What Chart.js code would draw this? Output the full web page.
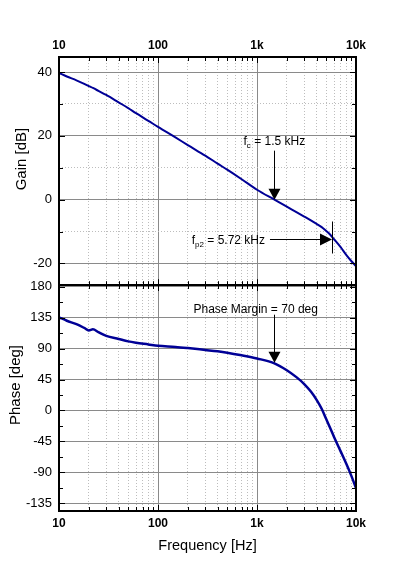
<!DOCTYPE html>
<html>
<head>
<meta charset="utf-8">
<script src="https://cdn.jsdelivr.net/npm/chart.js@4.4.1/dist/chart.umd.min.js"></script>
<style>
html, body { margin: 0; padding: 0; background: #fff; }
#wrap { position: relative; width: 398px; height: 570px; }
#gainCanvas { position: absolute; left: 0; top: 0; }
#phaseCanvas { position: absolute; left: 0; top: 270px; }
</style>
</head>
<body>
<div id="wrap">
  <canvas id="gainCanvas" width="398" height="300"></canvas>
  <canvas id="phaseCanvas" width="398" height="300"></canvas>
</div>
<script>
const freqHz   = [10, 12, 15, 18, 20, 22, 25, 30, 40, 50, 60, 80, 100, 150, 200, 300, 400, 500, 700, 1000,
                  1500, 2000, 2500, 3000, 3500, 4000, 4500, 5000, 5500, 6000, 7000, 8000, 9000, 10000];
const gainDb   = [39.7, 38.6, 37.4, 36.3, 35.6, 35.0, 34.1, 32.8, 30.5, 28.7, 27.1, 24.7, 22.8, 19.5, 17.1, 13.8, 11.3, 9.4, 6.4, 3.1,
                  0.0, -2.2, -3.9, -5.3, -6.5, -7.6, -8.6, -9.8, -11.0, -12.4, -14.9, -17.4, -19.3, -20.8];
const phaseDeg = [135.5, 130.5, 125.5, 120, 116.5, 118, 114, 108.5, 104, 100.5, 98.5, 96, 94, 92.5, 90.8, 88, 86, 84, 80.2, 75.6,
                  68.6, 58.6, 48.5, 38.5, 27.5, 15.5, 2.5, -12.5, -26, -38.5, -59.5, -78, -95.5, -113];

const decades = [10, 100, 1000, 10000];
const decadeLabels = ['10', '100', '1k', '10k'];
const gainTicks = [-20, -10, 0, 10, 20, 30, 40];
const phaseTicks = [-135, -112.5, -90, -67.5, -45, -22.5, 0, 22.5, 45, 67.5, 90, 112.5, 135, 157.5, 180];

// annotation points
const fcHz = 1500, fcGain = 0;
const fp2Hz = 5720, fp2Gain = -12.3;
const pmHz = 1500, pmPhase = 69.5;

const xTickValues = [];
decades.slice(0, 3).forEach(d => { for (let m = 1; m < 10; m++) xTickValues.push(d * m); });
xTickValues.push(10000);

const isDecade = v => decades.includes(v);
const FONT = '"Liberation Sans", Arial, sans-serif';
const NARROW = '"Liberation Sans Narrow", "Arial Narrow", "Liberation Sans", Arial, sans-serif';
const CURVE = '#000096';

function seg(ctx, x1, y1, x2, y2) {
    ctx.beginPath();
    ctx.moveTo(x1, y1);
    ctx.lineTo(x2, y2);
    ctx.stroke();
}

function arrowDown(ctx, x, y0, tip) {
    ctx.lineWidth = 1;
    seg(ctx, x, y0, x, tip - 10);
    ctx.beginPath();
    ctx.moveTo(x - 6, tip - 11);
    ctx.lineTo(x + 6, tip - 11);
    ctx.lineTo(x, tip);
    ctx.closePath();
    ctx.fill();
}

function arrowRight(ctx, x0, tip, y) {
    ctx.lineWidth = 1;
    seg(ctx, x0, y, tip - 10, y);
    ctx.beginPath();
    ctx.moveTo(tip - 12, y - 6);
    ctx.lineTo(tip - 12, y + 6);
    ctx.lineTo(tip, y);
    ctx.closePath();
    ctx.fill();
}

// text with a subscript, e.g. f_c = 1.5 kHz
function subLabel(ctx, x, y, main, sub, rest, align) {
    const big = '12px ' + FONT, small = '8px ' + FONT;
    ctx.textAlign = 'left';
    ctx.textBaseline = 'alphabetic';
    ctx.font = big;
    const w1 = ctx.measureText(main).width, w3 = sub ? ctx.measureText(rest).width : 0;
    ctx.font = small;
    const w2 = sub ? ctx.measureText(sub).width : 0;
    let left = align === 'right' ? x - (w1 + w2 + w3) : x;
    ctx.font = big;
    ctx.fillText(main, left, y);
    if (sub) {
        ctx.font = small;
        ctx.fillText(sub, left + w1, y + 3);
        ctx.font = big;
        ctx.fillText(rest, left + w1 + w2, y);
    }
}

function xAxis(position, extra) {
    return Object.assign({
        type: 'logarithmic',
        position: position,
        min: 10,
        max: 10000,
        afterBuildTicks: s => { s.ticks = xTickValues.map(v => ({ value: v })); },
        ticks: {
            autoSkip: false,
            maxRotation: 0,
            color: '#000',
            font: { family: FONT, size: 12, weight: 'bold' },
            callback: v => { const i = decades.indexOf(v); return i >= 0 ? decadeLabels[i] : ''; }
        },
        grid: {
            drawTicks: false,
            lineWidth: 1,
            color: c => isDecade(c.tick && c.tick.value) ? '#8a8a8a' : '#bdbdbd'
        },
        border: {
            display: false,
            dash: c => (c.tick && !isDecade(c.tick.value)) ? [1, 2] : []
        }
    }, extra);
}

function panelPlugin(cfg) {
    return {
        id: 'panel_' + cfg.name,
        afterDraw(chart) {
            const { ctx, chartArea: a } = chart;
            const xs = chart.scales.x, ys = chart.scales.y;
            ctx.save();
            ctx.strokeStyle = '#000';
            ctx.fillStyle = '#000';
            ctx.lineWidth = 1;
            // inward tick marks on all four sides
            xTickValues.forEach(v => {
                const px = Math.round(xs.getPixelForValue(v)) + 0.5;
                const len = isDecade(v) ? 6 : 4;
                seg(ctx, px, a.top, px, a.top + len);
                seg(ctx, px, a.bottom, px, a.bottom - len);
            });
            cfg.yTicks.forEach(v => {
                const py = Math.round(ys.getPixelForValue(v)) + 0.5;
                const len = cfg.yMajor(v) ? 6 : 4;
                seg(ctx, a.left, py, a.left + len, py);
                seg(ctx, a.right, py, a.right - len, py);
            });
            ctx.lineWidth = 2;
            ctx.strokeRect(a.left, a.top, a.right - a.left, a.bottom - a.top);

            // y title
            ctx.save();
            ctx.font = '15px ' + FONT;
            ctx.textAlign = 'center';
            ctx.textBaseline = 'alphabetic';
            ctx.translate(cfg.titleX, (a.top + a.bottom) / 2 - cfg.titleShift);
            ctx.rotate(-Math.PI / 2);
            ctx.fillText(cfg.title, 0, 0);
            ctx.restore();

            cfg.notes(ctx, xs, ys);
            ctx.restore();
        }
    };
}

const gainChart = new Chart(document.getElementById('gainCanvas'), {
    type: 'line',
    data: {
        datasets: [{
            data: freqHz.map((f, i) => ({ x: f, y: gainDb[i] })),
            borderColor: CURVE,
            borderWidth: 2,
            pointRadius: 0,
            cubicInterpolationMode: 'monotone'
        }]
    },
    options: {
        responsive: false,
        animation: false,
        devicePixelRatio: 1,
        layout: { padding: { left: 0, right: 42, top: 0, bottom: 2 } },
        plugins: { legend: { display: false }, tooltip: { enabled: false } },
        scales: {
            x: xAxis('top', {
                afterFit: s => { s.height = 57; },
                ticks: Object.assign({}, xAxis('top').ticks, { padding: 4 })
            }),
            y: {
                type: 'linear',
                min: -26.8,
                max: 44.7,
                afterBuildTicks: s => { s.ticks = gainTicks.map(v => ({ value: v })); },
                afterFit: s => { s.width = 59; },
                ticks: {
                    color: '#000',
                    padding: 7,
                    font: { family: NARROW, size: 13 },
                    callback: v => (v % 20 === 0 ? String(v) : '')
                },
                grid: {
                    drawTicks: false,
                    color: c => (c.tick && c.tick.value % 20 === 0) ? '#8a8a8a' : '#bdbdbd'
                },
                border: {
                    display: false,
                    dash: c => (c.tick && c.tick.value % 20 !== 0) ? [1, 2] : []
                }
            }
        }
    },
    plugins: [panelPlugin({
        name: 'gain',
        yTicks: gainTicks,
        yMajor: v => v % 20 === 0,
        title: 'Gain [dB]',
        titleX: 26,
        titleShift: 12,
        notes(ctx, xs, ys) {
            const cx = Math.round(xs.getPixelForValue(fcHz)) + 0.5;
            const cy = ys.getPixelForValue(fcGain);
            arrowDown(ctx, cx, cy - 49, cy);
            subLabel(ctx, cx - 31, cy - 55, 'f', 'c', ' = 1.5 kHz', 'left');

            const px = xs.getPixelForValue(fp2Hz);
            const py = Math.round(ys.getPixelForValue(fp2Gain)) + 0.5;
            arrowRight(ctx, px - 62, px, py);
            subLabel(ctx, px - 67, py + 4.5, 'f', 'p2', ' = 5.72 kHz', 'right');
            const tx = Math.round(px) + 0.5;
            seg(ctx, tx, py - 18, tx, py + 14);
        }
    })]
});

const phaseChart = new Chart(document.getElementById('phaseCanvas'), {
    type: 'line',
    data: {
        datasets: [{
            data: freqHz.map((f, i) => ({ x: f, y: phaseDeg[i] })),
            borderColor: CURVE,
            borderWidth: 2.5,
            pointRadius: 0,
            cubicInterpolationMode: 'monotone'
        }]
    },
    options: {
        responsive: false,
        animation: false,
        devicePixelRatio: 1,
        layout: { padding: { left: 0, right: 42, top: 15, bottom: 0 } },
        plugins: { legend: { display: false }, tooltip: { enabled: false } },
        scales: {
            x: xAxis('bottom', {
                afterFit: s => { s.height = 59; },
                ticks: Object.assign({}, xAxis('bottom').ticks, { padding: 5 }),
                title: {
                    display: true,
                    text: 'Frequency [Hz]',
                    color: '#000',
                    font: { family: FONT, size: 14.5 },
                    padding: { top: 0, bottom: 15 }
                }
            }),
            y: {
                type: 'linear',
                min: -146.2,
                max: 182.5,
                afterBuildTicks: s => { s.ticks = phaseTicks.map(v => ({ value: v })); },
                afterFit: s => { s.width = 59; },
                ticks: {
                    color: '#000',
                    padding: 7,
                    font: { family: NARROW, size: 13 },
                    callback: v => (v % 45 === 0 ? String(v) : '')
                },
                grid: {
                    drawTicks: false,
                    color: c => (c.tick && c.tick.value % 45 === 0) ? '#8a8a8a' : 'rgba(0,0,0,0)'
                },
                border: { display: false }
            }
        }
    },
    plugins: [panelPlugin({
        name: 'phase',
        yTicks: phaseTicks,
        yMajor: v => v % 45 === 0,
        title: 'Phase [deg]',
        titleX: 20,
        titleShift: 13,
        notes(ctx, xs, ys) {
            const mx = Math.round(xs.getPixelForValue(pmHz)) + 0.5;
            const my = ys.getPixelForValue(pmPhase);
            arrowDown(ctx, mx, my - 48, my);
            subLabel(ctx, mx - 81, my - 50, 'Phase Margin = 70 deg', '', '', 'left');
        }
    })]
});
</script>
</body>
</html>
